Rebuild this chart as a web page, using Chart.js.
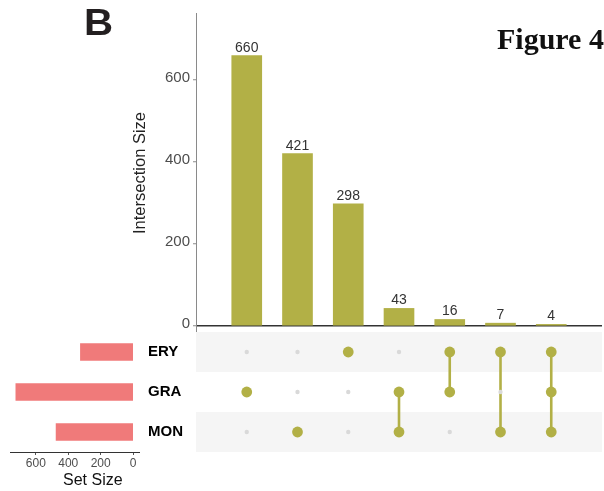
<!DOCTYPE html>
<html>
<head>
<meta charset="utf-8">
<script src="https://cdn.jsdelivr.net/npm/chart.js@4/dist/chart.umd.min.js"></script>
<style>
html,body{margin:0;padding:0;background:#fff;}
#wrap{position:relative;width:604px;height:491px;overflow:hidden;background:#fff;}
#wrap canvas{position:absolute;left:0;top:0;}
.txt{position:absolute;white-space:nowrap;}
#lblB{left:84px;top:5px;font:bold 36px/36px "Liberation Sans",Arial,sans-serif;color:#231f20;transform:scaleX(1.12);transform-origin:0 0;}
#lblFig{left:497px;top:24px;font:bold 30px/30px "Liberation Serif","Times New Roman",serif;color:#111;}
#lblSet{left:63px;top:472px;font:16px/16px "Liberation Sans",Arial,sans-serif;color:#111;}
</style>
</head>
<body>
<div id="wrap">
  <canvas id="topChart" width="604" height="491"></canvas>
  <canvas id="matChart" width="604" height="491"></canvas>
  <canvas id="setChart" width="604" height="491"></canvas>
  <div class="txt" id="lblB">B</div>
  <div class="txt" id="lblFig">Figure 4</div>
  <div class="txt" id="lblSet">Set Size</div>
</div>
<script>
// ---- data ----
const sets = ['ERY', 'GRA', 'MON'];
const setSizes = [325, 723, 475];
const intersectionSizes = [660, 421, 298, 43, 16, 7, 4];
const intersectionMembers = [
  ['GRA'], ['MON'], ['ERY'], ['GRA', 'MON'], ['ERY', 'GRA'], ['ERY', 'MON'], ['ERY', 'GRA', 'MON']
];
const intersectionTicks = [0, 200, 400, 600];
const setSizeTicks = [0, 200, 400, 600];

// ---- styles ----
const OLIVE = '#B2B046';
const RED = '#F07A7A';
const EMPTY = '#D9D9D9';
const BAND = '#F5F5F5';
const SANS = '"Liberation Sans", Arial, sans-serif';

const common = {
  responsive: false,
  animation: false,
  devicePixelRatio: 1,
  events: [],
  plugins: { legend: { display: false }, tooltip: { enabled: false } }
};

// ---- top: intersection size bars ----
const barLabels = {
  id: 'barLabels',
  afterDatasetsDraw(chart) {
    const ctx = chart.ctx;
    const meta = chart.getDatasetMeta(0);
    ctx.save();
    ctx.font = '14px ' + SANS;
    ctx.fillStyle = '#333';
    ctx.textAlign = 'center';
    ctx.textBaseline = 'alphabetic';
    meta.data.forEach((el, i) => {
      ctx.fillText(String(intersectionSizes[i]), el.x, el.y - 4);
    });
    ctx.restore();
  }
};

new Chart(document.getElementById('topChart'), {
  type: 'bar',
  data: {
    datasets: [{
      data: intersectionSizes.map((v, i) => ({ x: i, y: v })),
      backgroundColor: OLIVE,
      borderWidth: 0,
      barThickness: 30
    }]
  },
  options: Object.assign({}, common, {
    layout: { autoPadding: false, padding: { left: 131, top: 13, right: 2, bottom: 158 } },
    scales: {
      x: { type: 'linear', min: -1, max: 7, offset: false, display: false },
      y: {
        type: 'linear', min: -17, max: 764,
        afterBuildTicks: s => { s.ticks = intersectionTicks.map(v => ({ value: v })); },
        afterFit: s => { s.width = 65; },
        border: { display: true, color: '#8a8a8a', width: 1 },
        grid: {
          drawOnChartArea: true,
          color: c => (c.tick && c.tick.value === 0) ? '#333' : 'rgba(0,0,0,0)',
          lineWidth: 1.5,
          tickLength: 3,
          tickColor: '#8a8a8a',
          tickWidth: 1
        },
        ticks: { color: '#4D4D4D', font: { family: SANS, size: 15 }, padding: 3, labelOffset: -2 },
        title: {
          display: true, text: 'Intersection Size', color: '#222',
          font: { family: SANS, size: 16.5 }, padding: { top: 0, bottom: 0 }
        }
      }
    }
  }),
  plugins: [barLabels]
});

// ---- matrix ----
const bands = {
  id: 'bands',
  beforeDatasetsDraw(chart) {
    const { ctx, chartArea, scales } = chart;
    ctx.save();
    ctx.fillStyle = BAND;
    sets.forEach((s, r) => {
      if (r % 2 === 0) {
        const a = scales.y.getPixelForValue(r - 0.5);
        const b = scales.y.getPixelForValue(r + 0.5);
        ctx.fillRect(chartArea.left, Math.min(a, b), chartArea.right - chartArea.left, Math.abs(b - a));
      }
    });
    ctx.restore();
  }
};

const memberPts = [], emptyPts = [], lineSets = [];
intersectionMembers.forEach((mem, i) => {
  const rows = [];
  sets.forEach((s, r) => {
    if (mem.includes(s)) { memberPts.push({ x: i, y: r }); rows.push(r); }
    else emptyPts.push({ x: i, y: r });
  });
  if (rows.length > 1) {
    lineSets.push({
      type: 'line',
      data: [{ x: i, y: Math.min(...rows) }, { x: i, y: Math.max(...rows) }],
      borderColor: OLIVE, borderWidth: 2.6, pointRadius: 0, fill: false, order: 2
    });
  }
});

new Chart(document.getElementById('matChart'), {
  type: 'scatter',
  data: {
    datasets: [
      { data: memberPts, backgroundColor: OLIVE, borderWidth: 0, pointRadius: 5.4, order: 0 },
      { data: emptyPts, backgroundColor: EMPTY, borderWidth: 0, pointRadius: 2.2, order: 1 }
    ].concat(lineSets)
  },
  options: Object.assign({}, common, {
    layout: { autoPadding: false, padding: { left: 196, top: 332, right: 2, bottom: 39 } },
    scales: {
      x: { type: 'linear', min: -1, max: 7, display: false },
      y: { type: 'linear', min: -0.5, max: 2.5, reverse: true, display: false }
    }
  }),
  plugins: [bands]
});

// ---- left: set size bars ----
new Chart(document.getElementById('setChart'), {
  type: 'bar',
  data: {
    labels: sets,
    datasets: [{ data: setSizes, backgroundColor: RED, borderWidth: 0, barThickness: 17 }]
  },
  options: Object.assign({}, common, {
    indexAxis: 'y',
    layout: { autoPadding: false, padding: { left: 10, top: 332, right: 405, bottom: 19 } },
    scales: {
      x: {
        type: 'linear', reverse: true, min: -36, max: 759,
        afterBuildTicks: s => { s.ticks = setSizeTicks.map(v => ({ value: v })); },
        afterFit: s => { s.height = 20; },
        border: { display: true, color: '#333', width: 1 },
        grid: { drawOnChartArea: false, tickLength: 3, color: '#555' },
        ticks: { color: '#4D4D4D', font: { family: SANS, size: 12 }, padding: 1, maxRotation: 0 }
      },
      y: {
        type: 'category', position: 'right',
        afterFit: s => { s.width = 60; },
        border: { display: false },
        grid: { display: false, drawTicks: false, tickLength: 0 },
        ticks: { color: '#000', font: { family: SANS, size: 15, weight: 'bold' }, padding: 9 }
      }
    }
  })
});
</script>
</body>
</html>
